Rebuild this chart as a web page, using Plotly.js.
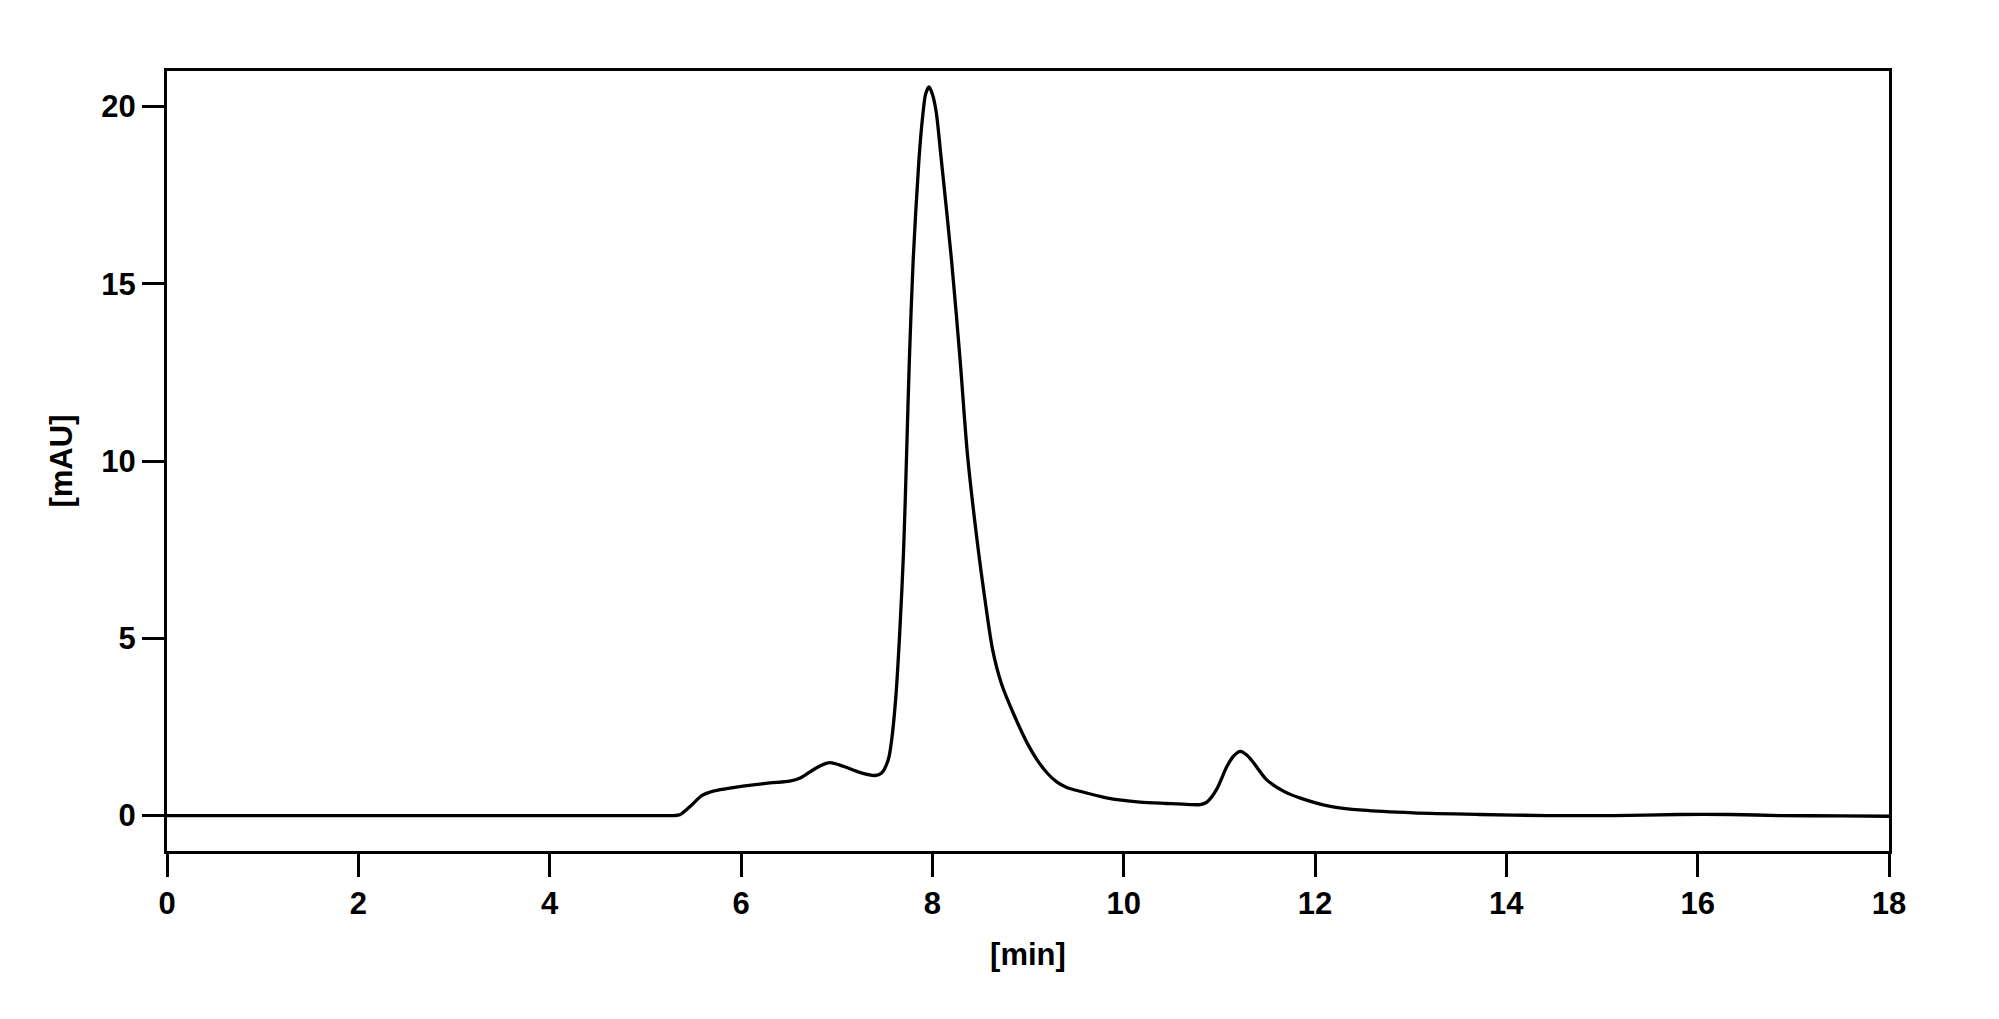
<!DOCTYPE html>
<html>
<head>
<meta charset="utf-8">
<script src="https://cdn.plot.ly/plotly-3.0.1.min.js"></script>
<style>
  html, body { margin: 0; padding: 0; background: #fff; }
  #chart { width: 1999px; height: 1019px; }
</style>
</head>
<body>
<div id="chart"></div>
<script>
// retention time [min] and detector signal [mAU]
var timeMin = [
  0, 1, 2, 3, 4, 5, 5.3, 5.36, 5.47, 5.59, 5.71, 5.85, 6.02, 6.3, 6.51, 6.62,
  6.76, 6.85, 6.93, 7.07, 7.24, 7.40, 7.47, 7.54, 7.575, 7.62, 7.66, 7.70,
  7.73, 7.76, 7.80, 7.86, 7.90, 7.93, 7.965, 8.0, 8.04, 8.09, 8.20, 8.29, 8.37, 8.48,
  8.55, 8.63, 8.72, 8.86, 9.0, 9.1, 9.2, 9.3, 9.4, 9.55, 9.82, 10.17, 10.45, 10.69,
  10.8, 10.87, 10.97, 11.08, 11.15, 11.22, 11.29, 11.36, 11.49, 11.67, 11.84,
  12.16, 12.5, 13.03, 13.72, 14.42, 15.12, 15.8, 16.34, 16.86, 17.5, 18
];
var signalMAU = [
  0, 0, 0, 0, 0, 0, 0, 0.02, 0.26, 0.56, 0.69, 0.76, 0.83, 0.92, 0.97, 1.06,
  1.30, 1.43, 1.49, 1.39, 1.22, 1.13, 1.20, 1.58, 2.14, 3.4, 5.2, 7.5,
  10.1, 12.86, 15.68, 18.5, 19.75, 20.35, 20.55, 20.35, 19.85, 18.6, 15.68, 12.86, 10.1, 7.5,
  6.09, 4.68, 3.74, 2.8, 2.0, 1.55, 1.2, 0.95, 0.8, 0.68, 0.5, 0.38, 0.34, 0.31,
  0.31, 0.38, 0.73, 1.39, 1.68, 1.81, 1.7, 1.48, 1.02, 0.69, 0.5,
  0.26, 0.15, 0.075, 0.03, 0, 0, 0.03, 0.03, 0, -0.01, -0.02
];
var xTicks = [0, 2, 4, 6, 8, 10, 12, 14, 16, 18];
var yTicks = [0, 5, 10, 15, 20];

var font = { family: 'Liberation Sans, Arial, sans-serif', size: 31, color: '#000', weight: 'bold' };

var trace = {
  x: timeMin,
  y: signalMAU,
  type: 'scatter',
  mode: 'lines',
  line: { color: '#000', width: 3.3, shape: 'spline', smoothing: 0.8 },
  hoverinfo: 'x+y'
};

var layout = {
  width: 1999,
  height: 1019,
  margin: { l: 167, r: 110, t: 71, b: 168 },
  paper_bgcolor: '#fff',
  plot_bgcolor: '#fff',
  showlegend: false,
  font: font,
  xaxis: {
    range: [0, 18],
    tickvals: xTicks,
    ticks: 'outside',
    ticklen: 23,
    tickwidth: 3,
    tickcolor: '#000',
    showline: true,
    linewidth: 3,
    linecolor: '#000',
    mirror: true,
    showgrid: false,
    zeroline: false,
    tickfont: font,
    title: { text: '[min]', font: font, standoff: 24 }
  },
  yaxis: {
    range: [-1, 21],
    tickvals: yTicks,
    ticks: 'outside',
    ticklen: 22,
    tickwidth: 3,
    tickcolor: '#000',
    showline: true,
    linewidth: 3,
    linecolor: '#000',
    mirror: true,
    showgrid: false,
    zeroline: false,
    tickfont: font,
    title: { text: '[mAU]', font: font, standoff: 20 }
  }
};

Plotly.newPlot('chart', [trace], layout, { displayModeBar: false, staticPlot: true });
</script>
</body>
</html>
